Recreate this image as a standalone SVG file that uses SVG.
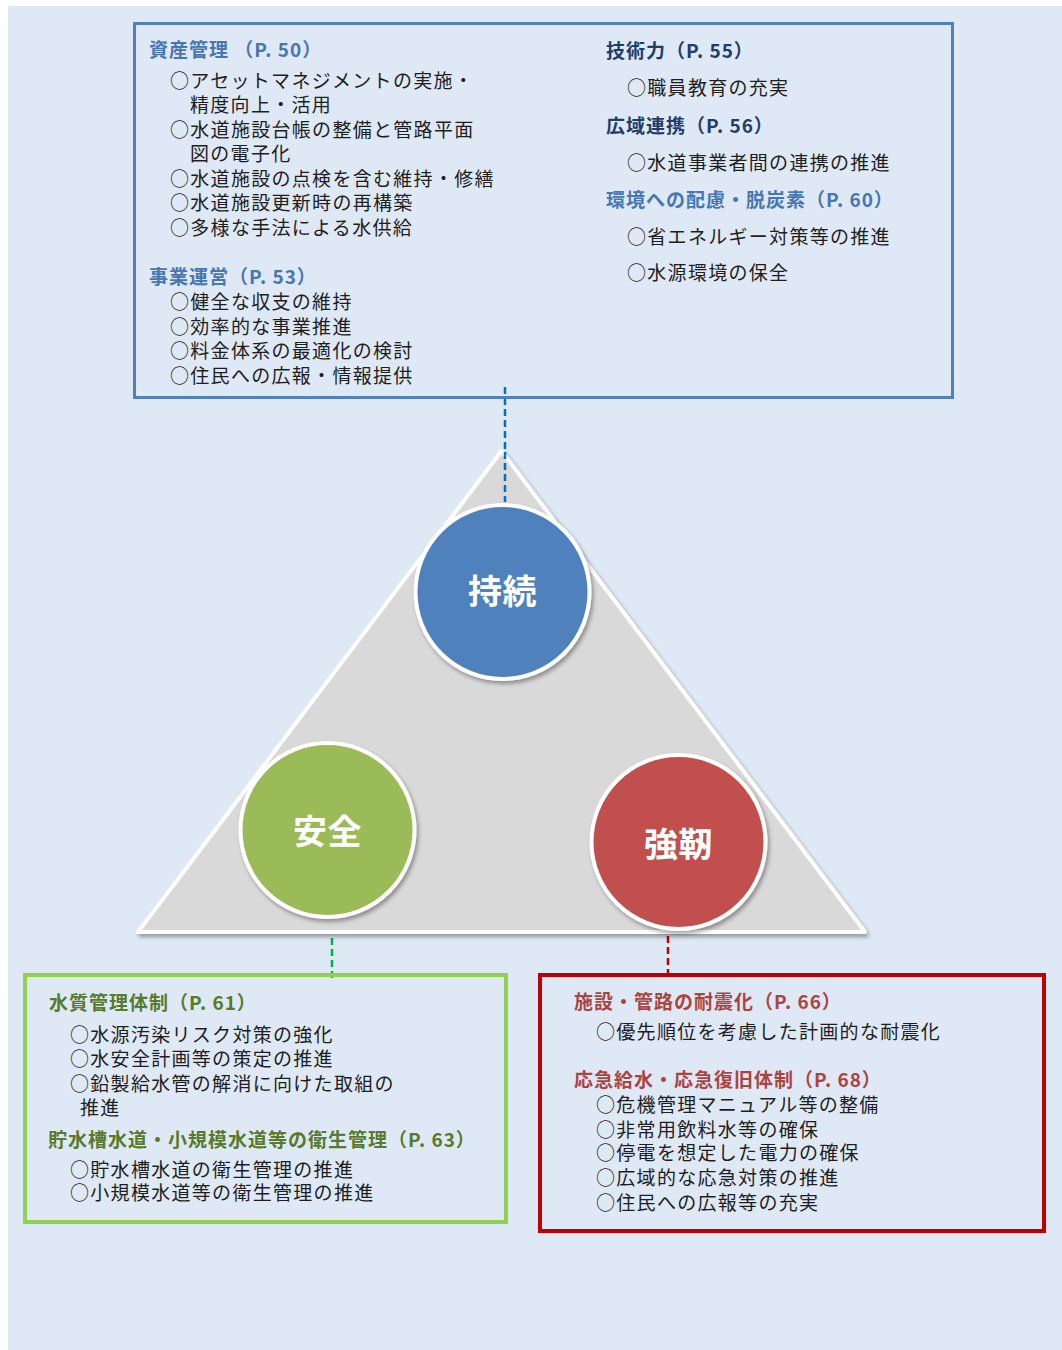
<svg xmlns="http://www.w3.org/2000/svg" width="1062" height="1350" viewBox="0 0 1062 1350">
<defs>
<style>
text{font-family:"Noto Sans CJK JP","Noto Sans",sans-serif}
.b{font-size:19px;fill:#1e1e1e;letter-spacing:1.3px}
.h{font-size:19px;font-weight:bold;letter-spacing:1px}
.hb{fill:#4676b3}
.hn{fill:#1f3d6b}
.hg{fill:#587a2c}
.hr{fill:#ad4341}
.c{font-size:34px;font-weight:bold;fill:#ffffff;text-anchor:middle;letter-spacing:0.5px}
.box{fill:none}
</style>
<filter id="sh" x="-20%" y="-20%" width="140%" height="140%">
<feGaussianBlur in="SourceAlpha" stdDeviation="2"/>
<feOffset dx="2" dy="3" result="o"/>
<feComponentTransfer><feFuncA type="linear" slope="0.35"/></feComponentTransfer>
<feMerge><feMergeNode/><feMergeNode in="SourceGraphic"/></feMerge>
</filter>
</defs>
<rect x="0" y="0" width="1062" height="1350" fill="#ffffff"/>
<rect x="8" y="6" width="1054" height="1344" fill="#dee9f5"/>

<g id="connectors" fill="none" stroke-width="2.5" stroke-dasharray="7 4">
<line x1="505" y1="387" x2="505" y2="502" stroke="#0070c0"/>
<line x1="332" y1="916" x2="332" y2="978" stroke="#00b050"/>
<line x1="668" y1="925" x2="668" y2="978" stroke="#c00000"/>
</g>

<g id="triangle">
<polygon points="501.5,451 138,932 865,932" fill="#d9d9d9" stroke="#ffffff" stroke-width="4" stroke-linejoin="round" filter="url(#sh)"/>
</g>

<g id="connector-top-over">
<line x1="505" y1="452" x2="505" y2="502" stroke="#0070c0" stroke-width="2.5" stroke-dasharray="7 4"/>
</g>

<g id="node-jizoku">
<circle cx="502.5" cy="592" r="87" fill="#4f81bd" stroke="#ffffff" stroke-width="4" filter="url(#sh)"/>
<text class="c" x="502.5" y="604">持続</text>
</g>
<g id="node-anzen">
<circle cx="327.5" cy="830" r="87" fill="#9bbb59" stroke="#ffffff" stroke-width="4" filter="url(#sh)"/>
<text class="c" x="327.5" y="844">安全</text>
</g>
<g id="node-kyojin">
<circle cx="678.5" cy="842" r="87" fill="#c0504d" stroke="#ffffff" stroke-width="4" filter="url(#sh)"/>
<text class="c" x="678.5" y="857">強靭</text>
</g>

<g id="box-top">
<rect class="box" x="134.5" y="23.5" width="818" height="374" stroke="#4f81bd" stroke-width="3"/>
<text class="h hb" x="149" y="57">資産管理 （P. 50）</text>
<text class="b" x="170" y="88">○アセットマネジメントの実施・</text>
<text class="b" x="190" y="112">精度向上・活用</text>
<text class="b" x="170" y="137">○水道施設台帳の整備と管路平面</text>
<text class="b" x="190" y="161">図の電子化</text>
<text class="b" x="170" y="186">○水道施設の点検を含む維持・修繕</text>
<text class="b" x="170" y="210">○水道施設更新時の再構築</text>
<text class="b" x="170" y="235">○多様な手法による水供給</text>
<text class="h hb" x="149" y="284">事業運営（P. 53）</text>
<text class="b" x="170" y="309">○健全な収支の維持</text>
<text class="b" x="170" y="334">○効率的な事業推進</text>
<text class="b" x="170" y="358">○料金体系の最適化の検討</text>
<text class="b" x="170" y="383">○住民への広報・情報提供</text>
<text class="h hn" x="606" y="58">技術力（P. 55）</text>
<text class="b" x="627" y="95">○職員教育の充実</text>
<text class="h hn" x="606" y="133">広域連携（P. 56）</text>
<text class="b" x="627" y="170">○水道事業者間の連携の推進</text>
<text class="h hb" x="606" y="207">環境への配慮・脱炭素（P. 60）</text>
<text class="b" x="627" y="244">○省エネルギー対策等の推進</text>
<text class="b" x="627" y="280">○水源環境の保全</text>
</g>

<g id="box-anzen">
<rect class="box" x="25" y="975" width="481" height="247" stroke="#92d050" stroke-width="4"/>
<text class="h hg" x="49" y="1010">水質管理体制（P. 61）</text>
<text class="b" x="70" y="1042">○水源汚染リスク対策の強化</text>
<text class="b" x="70" y="1066">○水安全計画等の策定の推進</text>
<text class="b" x="70" y="1091">○鉛製給水管の解消に向けた取組の</text>
<text class="b" x="80" y="1115">推進</text>
<text class="h hg" x="48" y="1147">貯水槽水道・小規模水道等の衛生管理（P. 63）</text>
<text class="b" x="70" y="1177">○貯水槽水道の衛生管理の推進</text>
<text class="b" x="70" y="1200">○小規模水道等の衛生管理の推進</text>
</g>

<g id="box-kyojin">
<rect class="box" x="540" y="975" width="504" height="256" stroke="#c00000" stroke-width="4"/>
<text class="h hr" x="574" y="1009">施設・管路の耐震化（P. 66）</text>
<text class="b" x="596" y="1039">○優先順位を考慮した計画的な耐震化</text>
<text class="h hr" x="574" y="1087">応急給水・応急復旧体制（P. 68）</text>
<text class="b" x="596" y="1112">○危機管理マニュアル等の整備</text>
<text class="b" x="596" y="1137">○非常用飲料水等の確保</text>
<text class="b" x="596" y="1160">○停電を想定した電力の確保</text>
<text class="b" x="596" y="1185">○広域的な応急対策の推進</text>
<text class="b" x="596" y="1210">○住民への広報等の充実</text>
</g>
</svg>
